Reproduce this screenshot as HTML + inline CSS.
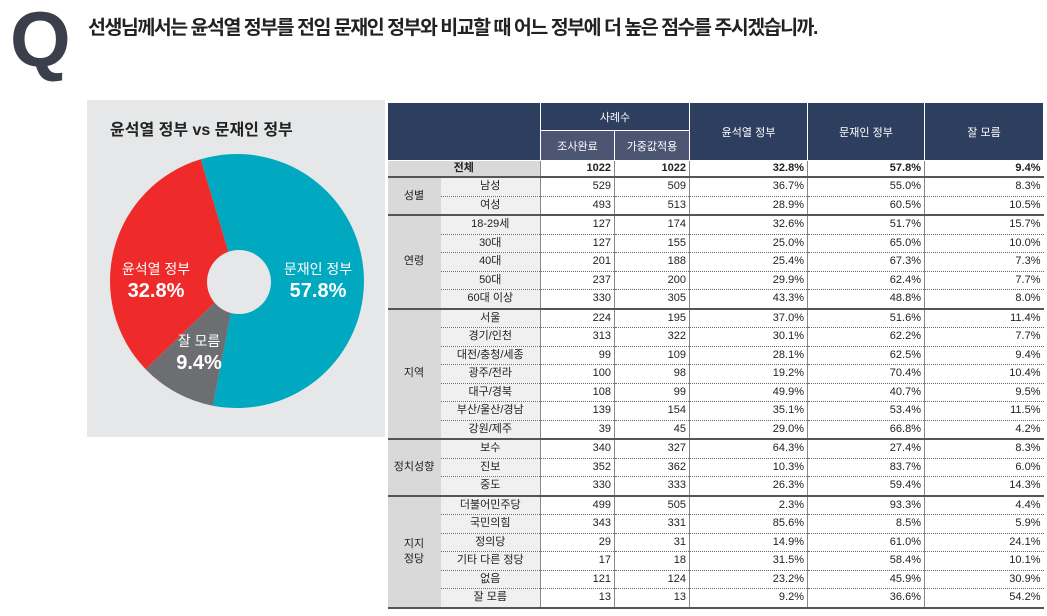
<!DOCTYPE html>
<html><head><meta charset="utf-8"><style>
body{margin:0;width:1047px;height:616px;background:#fff;position:relative;overflow:hidden;font-family:"Liberation Sans","Noto Sans CJK KR",sans-serif;}
#q{position:absolute;left:10px;top:-6px;font-size:78px;font-weight:bold;color:#3a3f4b;}
#title{position:absolute;left:88px;top:11px;font-size:19.5px;font-weight:bold;color:#222;letter-spacing:-1.5px;}
#panel{position:absolute;left:87px;top:100px;width:298px;height:337px;background:#e6e7e8;}
table{position:absolute;left:387px;top:102px;border-collapse:collapse;table-layout:fixed;width:656px;font-size:11px;color:#222;}
td{padding:0 3px;height:17.5px;line-height:15px;border-bottom:1px dotted #666;text-align:right;white-space:nowrap;overflow:hidden;}
td.n{border-left:1px solid #888;}
td.g{background:#d9d9d9;text-align:center;border-bottom:none;}
td.s{background:#f0f0f0;text-align:center;}
tr.end td{border-bottom:2px solid #555;}
th{background:#2d3e5f;color:#fff;font-weight:normal;font-size:11px;border:1px solid #fff;}
th.sub{background:#4c5672;}
tr.tot td{font-weight:bold;height:15px;border-bottom:2px solid #555;}
</style></head><body>
<div id="q">Q</div>
<div id="title">선생님께서는 윤석열 정부를 전임 문재인 정부와 비교할 때 어느 정부에 더 높은 점수를 주시겠습니까.</div>
<div id="panel"></div>
<svg style="position:absolute;left:0;top:0" width="1047" height="616">
<text x="110" y="135" font-size="16" font-weight="bold" fill="#222" font-family="Liberation Sans,Noto Sans CJK KR,sans-serif">윤석열 정부 vs 문재인 정부</text>
<path d="M237,281 L200.7,159.3 A127,127 0 1 1 212.8,405.7 Z" fill="#00a9bf"/>
<path d="M237,281 L212.8,405.7 A127,127 0 0 1 145.6,369.2 Z" fill="#6d6e72"/>
<path d="M237,281 L145.6,369.2 A127,127 0 0 1 200.7,159.3 Z" fill="#ee2a2a"/>
<circle cx="239" cy="282" r="32" fill="#e6e7e8"/>
<g fill="#fff" text-anchor="middle" font-family="Liberation Sans,Noto Sans CJK KR,sans-serif">
<text x="156" y="274" font-size="14">윤석열 정부</text>
<text x="156" y="297" font-size="20" font-weight="bold">32.8%</text>
<text x="318" y="274" font-size="14">문재인 정부</text>
<text x="318" y="297" font-size="20" font-weight="bold">57.8%</text>
<text x="199" y="346" font-size="14">잘 모름</text>
<text x="199" y="369" font-size="20" font-weight="bold">9.4%</text>
</g>
</svg>
<table>
<colgroup><col style="width:53px"><col style="width:100px"><col style="width:74px"><col style="width:75px"><col style="width:118px"><col style="width:117px"><col style="width:119px"></colgroup>
<tr style="height:28px"><th colspan="2" rowspan="2"></th><th colspan="2">사례수</th><th rowspan="2">윤석열 정부</th><th rowspan="2">문재인 정부</th><th rowspan="2">잘 모름</th></tr>
<tr style="height:30px"><th class="sub">조사완료</th><th class="sub">가중값적용</th></tr>
<tr class="tot"><td class="g" colspan="2" style="border-bottom:2px solid #555">전체</td><td class="n">1022</td><td class="n">1022</td><td class="n">32.8%</td><td class="n">57.8%</td><td class="n">9.4%</td></tr>
<tr><td class="g" rowspan="2" style="border-bottom:2px solid #555">성별</td><td class="s">남성</td><td class="n">529</td><td class="n">509</td><td class="n">36.7%</td><td class="n">55.0%</td><td class="n">8.3%</td></tr>
<tr class="end"><td class="s">여성</td><td class="n">493</td><td class="n">513</td><td class="n">28.9%</td><td class="n">60.5%</td><td class="n">10.5%</td></tr>
<tr><td class="g" rowspan="5" style="border-bottom:2px solid #555">연령</td><td class="s">18-29세</td><td class="n">127</td><td class="n">174</td><td class="n">32.6%</td><td class="n">51.7%</td><td class="n">15.7%</td></tr>
<tr><td class="s">30대</td><td class="n">127</td><td class="n">155</td><td class="n">25.0%</td><td class="n">65.0%</td><td class="n">10.0%</td></tr>
<tr><td class="s">40대</td><td class="n">201</td><td class="n">188</td><td class="n">25.4%</td><td class="n">67.3%</td><td class="n">7.3%</td></tr>
<tr><td class="s">50대</td><td class="n">237</td><td class="n">200</td><td class="n">29.9%</td><td class="n">62.4%</td><td class="n">7.7%</td></tr>
<tr class="end"><td class="s">60대 이상</td><td class="n">330</td><td class="n">305</td><td class="n">43.3%</td><td class="n">48.8%</td><td class="n">8.0%</td></tr>
<tr><td class="g" rowspan="7" style="border-bottom:2px solid #555">지역</td><td class="s">서울</td><td class="n">224</td><td class="n">195</td><td class="n">37.0%</td><td class="n">51.6%</td><td class="n">11.4%</td></tr>
<tr><td class="s">경기/인천</td><td class="n">313</td><td class="n">322</td><td class="n">30.1%</td><td class="n">62.2%</td><td class="n">7.7%</td></tr>
<tr><td class="s">대전/충청/세종</td><td class="n">99</td><td class="n">109</td><td class="n">28.1%</td><td class="n">62.5%</td><td class="n">9.4%</td></tr>
<tr><td class="s">광주/전라</td><td class="n">100</td><td class="n">98</td><td class="n">19.2%</td><td class="n">70.4%</td><td class="n">10.4%</td></tr>
<tr><td class="s">대구/경북</td><td class="n">108</td><td class="n">99</td><td class="n">49.9%</td><td class="n">40.7%</td><td class="n">9.5%</td></tr>
<tr><td class="s">부산/울산/경남</td><td class="n">139</td><td class="n">154</td><td class="n">35.1%</td><td class="n">53.4%</td><td class="n">11.5%</td></tr>
<tr class="end"><td class="s">강원/제주</td><td class="n">39</td><td class="n">45</td><td class="n">29.0%</td><td class="n">66.8%</td><td class="n">4.2%</td></tr>
<tr><td class="g" rowspan="3" style="border-bottom:2px solid #555">정치성향</td><td class="s">보수</td><td class="n">340</td><td class="n">327</td><td class="n">64.3%</td><td class="n">27.4%</td><td class="n">8.3%</td></tr>
<tr><td class="s">진보</td><td class="n">352</td><td class="n">362</td><td class="n">10.3%</td><td class="n">83.7%</td><td class="n">6.0%</td></tr>
<tr class="end"><td class="s">중도</td><td class="n">330</td><td class="n">333</td><td class="n">26.3%</td><td class="n">59.4%</td><td class="n">14.3%</td></tr>
<tr><td class="g" rowspan="6" style="border-bottom:2px solid #555">지지<br>정당</td><td class="s">더불어민주당</td><td class="n">499</td><td class="n">505</td><td class="n">2.3%</td><td class="n">93.3%</td><td class="n">4.4%</td></tr>
<tr><td class="s">국민의힘</td><td class="n">343</td><td class="n">331</td><td class="n">85.6%</td><td class="n">8.5%</td><td class="n">5.9%</td></tr>
<tr><td class="s">정의당</td><td class="n">29</td><td class="n">31</td><td class="n">14.9%</td><td class="n">61.0%</td><td class="n">24.1%</td></tr>
<tr><td class="s">기타 다른 정당</td><td class="n">17</td><td class="n">18</td><td class="n">31.5%</td><td class="n">58.4%</td><td class="n">10.1%</td></tr>
<tr><td class="s">없음</td><td class="n">121</td><td class="n">124</td><td class="n">23.2%</td><td class="n">45.9%</td><td class="n">30.9%</td></tr>
<tr class="end"><td class="s">잘 모름</td><td class="n">13</td><td class="n">13</td><td class="n">9.2%</td><td class="n">36.6%</td><td class="n">54.2%</td></tr>
</table>
</body></html>
